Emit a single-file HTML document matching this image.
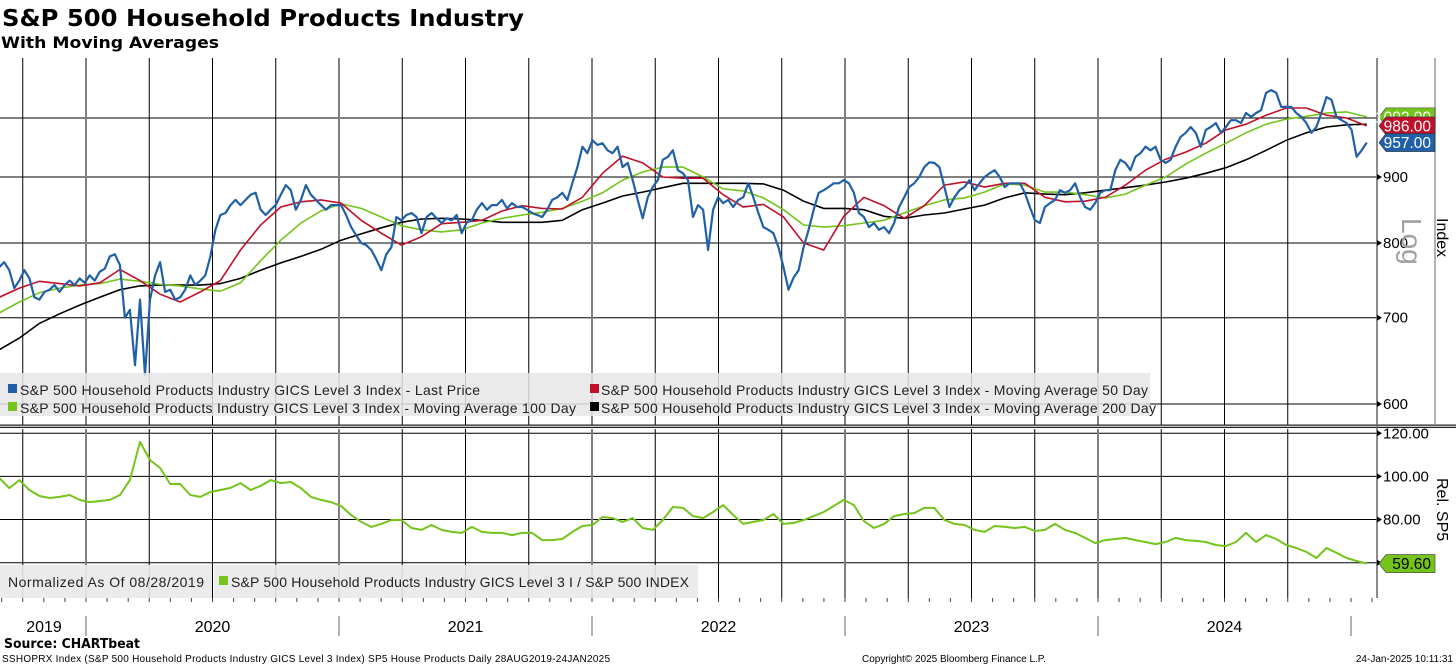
<!DOCTYPE html>
<html><head><meta charset="utf-8"><style>
html,body{margin:0;padding:0;background:#fff;}
svg{display:block;font-family:"Liberation Sans",sans-serif;}
</style></head><body>
<svg id="chart" width="1456" height="665" viewBox="0 0 1456 665" xmlns="http://www.w3.org/2000/svg">
<text x="2" y="26" font-family="DejaVu Sans, sans-serif" font-weight="bold" font-size="23" textLength="522" lengthAdjust="spacingAndGlyphs" fill="#000">S&amp;P 500 Household Products Industry</text>
<text x="1" y="48" font-family="DejaVu Sans, sans-serif" font-weight="bold" font-size="16" textLength="218" lengthAdjust="spacingAndGlyphs" fill="#000">With Moving Averages</text>
<g id="grid"></g>
<g id="series"></g>
<g id="axes"></g>
<g>
  <rect x="0" y="373" width="1150" height="43" fill="#e6e6e6" fill-opacity="0.85"/>
  <rect x="8" y="384" width="9" height="9" fill="#2060a8"/>
  <text x="20" y="395" font-size="14" textLength="460" fill="#222">S&amp;P 500 Household Products Industry GICS Level 3 Index - Last Price</text>
  <rect x="590" y="384" width="9" height="9" fill="#c0102a"/>
  <text x="601" y="395" font-size="14" textLength="547" fill="#222">S&amp;P 500 Household Products Industry GICS Level 3 Index - Moving Average 50 Day</text>
  <rect x="8" y="402" width="9" height="9" fill="#74c41c"/>
  <text x="20" y="413" font-size="14" textLength="556" fill="#222">S&amp;P 500 Household Products Industry GICS Level 3 Index - Moving Average 100 Day</text>
  <rect x="590" y="402" width="9" height="9" fill="#000"/>
  <text x="601" y="413" font-size="14" textLength="555" fill="#222">S&amp;P 500 Household Products Industry GICS Level 3 Index - Moving Average 200 Day</text>
</g>
<g>
  <rect x="0" y="565" width="212" height="33" fill="#e9e9e9" fill-opacity="0.9"/>
  <rect x="214" y="565" width="484" height="33" fill="#e9e9e9" fill-opacity="0.9"/>
  <text x="8" y="587" font-size="14" textLength="196" fill="#222">Normalized As Of 08/28/2019</text>
  <rect x="219" y="576" width="9" height="9" fill="#74c41c"/>
  <text x="231" y="587" font-size="14" textLength="458" fill="#222">S&amp;P 500 Household Products Industry GICS Level 3 I / S&amp;P 500 INDEX</text>
</g>
<text transform="translate(1402,218) rotate(90)" font-size="28" fill="#a0a0a0">Log</text>
<text transform="translate(1437,218) rotate(90)" font-size="16" fill="#000">Index</text>
<text transform="translate(1437,478) rotate(90)" font-size="16" fill="#000">Rel. SP5</text>
<text x="4" y="648" font-family="DejaVu Sans, sans-serif" font-weight="bold" font-size="13" textLength="136" lengthAdjust="spacingAndGlyphs" fill="#000">Source: CHARTbeat</text>
<text x="2" y="662" font-size="10" textLength="608" fill="#000">SSHOPRX Index (S&amp;P 500 Household Products Industry GICS Level 3 Index) SP5 House Products  Daily 28AUG2019-24JAN2025</text>
<text x="862" y="662" font-size="10" fill="#000">Copyright© 2025 Bloomberg Finance L.P.</text>
<text x="1453" y="662" font-size="10" text-anchor="end" fill="#000">24-Jan-2025 10:11:31</text>
</svg>
<script>
const price=[766,773,762,738,748,762,751,726,723,733,736,742,733,742,748,742,751,745,755,748,760,764,781,784,769,700,710,643,723,632,723,755,773,733,736,723,726,736,755,742,748,755,781,819,841,844,856,864,856,864,872,875,849,841,849,856,872,887,879,849,864,887,872,864,856,849,856,856,856,841,823,811,800,797,790,777,762,784,794,838,833,841,844,838,814,838,844,836,829,836,833,841,814,830,833,849,859,849,856,856,864,851,859,853,853,849,844,841,838,849,864,868,875,864,890,916,950,939,961,953,956,944,939,950,916,923,895,864,836,868,884,895,928,933,944,911,906,895,838,856,849,790,849,868,859,864,853,864,868,890,868,844,823,819,814,794,766,736,752,762,794,819,849,875,879,884,890,890,895,890,875,844,838,823,829,819,823,814,829,853,868,884,890,900,916,924,923,916,884,853,868,879,884,895,879,890,900,906,911,900,884,890,890,890,875,853,833,829,853,859,864,879,875,879,890,868,853,849,859,875,879,879,911,928,923,911,933,939,950,944,950,928,923,928,950,967,974,984,974,950,979,984,991,974,984,996,996,991,1009,1002,1009,1014,1046,1051,1046,1020,1020,1020,1009,1002,991,974,984,1009,1038,1033,1002,996,991,979,933,944,957];
const ma50=[726,738,747,744,741,745,763,748,730,720,733,748,790,826,853,861,864,859,833,814,797,809,828,830,833,847,855,851,850,868,906,934,923,900,898,898,872,853,857,838,800,790,839,868,855,836,855,887,892,884,890,890,868,861,862,868,887,911,929,941,956,979,989,1005,1018,1018,1005,1000,986];
const ma100=[706,720,732,738,742,744,750,747,743,741,737,734,745,775,804,829,847,858,851,838,825,819,816,819,829,836,841,845,851,862,875,895,908,916,916,900,881,878,867,849,826,823,825,829,833,844,855,864,867,876,889,887,876,876,872,867,873,887,900,921,939,956,974,989,998,1003,1009,1011,1002];
const ma200=[661,675,693,705,716,726,736,741,742,742,742,744,751,762,772,781,791,804,813,822,830,835,836,835,833,830,830,830,833,849,859,870,876,883,890,890,890,890,889,879,862,851,851,849,839,836,841,844,850,856,867,875,873,872,875,879,883,887,892,898,906,915,928,944,961,974,984,988,989];
const relative=[99.3,94.6,98.3,93.7,90.9,90.0,90.5,91.4,89.1,88.1,88.6,89.1,91.4,98.3,116.0,107.6,103.9,96.5,96.5,91.4,90.5,92.8,93.7,94.7,96.9,93.7,95.6,98.3,96.9,97.4,94.6,90.5,89.1,88.1,86.3,82.1,78.9,76.6,78.0,79.8,79.8,76.1,75.2,77.5,75.2,74.3,73.8,76.6,74.3,73.8,73.8,72.8,73.8,73.8,70.5,70.5,71.0,74.3,77.0,77.5,81.2,80.7,78.9,80.7,76.1,75.2,79.8,85.8,85.4,81.6,80.7,83.5,86.7,82.1,78.0,78.9,79.8,82.6,78.0,78.4,79.8,81.6,83.5,86.3,89.1,86.7,79.3,76.1,78.0,81.6,82.6,83.0,85.4,85.4,79.8,78.0,77.5,75.2,74.3,77.0,76.6,76.1,76.6,74.7,75.2,78.0,75.2,73.8,71.5,69.1,70.5,71.0,71.5,70.5,69.6,68.6,69.6,71.5,70.5,70.1,69.6,68.2,67.7,69.6,73.8,69.6,72.8,71.0,68.2,66.8,65.0,62.2,66.8,64.6,62.2,60.8,59.6];
const priceTicks=[600,700,800,900,1000];
const relTicks=[60,80,100,120];
const relTickLabels=["","80.00","100.00","120.00"];
const years=["2019","2020","2021","2022","2023","2024"];
const startYear=2019.657, endYear=2025.062;

const NS="http://www.w3.org/2000/svg";
const PLOT_R=1377;
function xScale(t){return 86+(t-2020)*253;}
function yPrice(v){return 177-560*Math.log(v/900);}
function yRel(v){return 562.7-(v-60)*2.157;}
function tAt(i,n){return startYear+i*(endYear-startYear)/(n-1);}
function mk(tag,attrs,parent){const e=document.createElementNS(NS,tag);for(const k in attrs)e.setAttribute(k,attrs[k]);parent.appendChild(e);return e;}

const grid=document.getElementById('grid');
const axes=document.getElementById('axes');
const series=document.getElementById('series');

priceTicks.forEach(v=>{
  const l=mk('line',{x1:0,x2:PLOT_R,y1:yPrice(v),y2:yPrice(v),stroke:'#000','stroke-width':1},grid);
  
  
});
relTicks.forEach(v=>{
  const l=mk('line',{x1:0,x2:PLOT_R,y1:yRel(v),y2:yRel(v),stroke:'#000','stroke-width':1},grid);
  
  
});
for(let y=2019;y<=2024;y++){for(let q=0;q<4;q++){
  const t=y+q/4; if(t<startYear) continue;
  const x=xScale(t); if(x>PLOT_R) continue;
  const isYear=q===0;
  [[58,425],[429,598]].forEach(r=>{
    const l=mk('line',{x1:x,x2:x,y1:r[0],y2:r[1],stroke:isYear?'#808080':'#000','stroke-width':isYear?2:1},grid);
    
    
  });
}}
const sep=mk('rect',{x:0,y:424.5,width:1456,height:3.5,fill:'#222'},axes);


const sep2=mk('line',{x1:0,x2:1456,y1:426.2,y2:426.2,stroke:'#fff','stroke-width':1},axes);


const ax=mk('line',{x1:PLOT_R,x2:PLOT_R,y1:58,y2:598,stroke:'#666','stroke-width':1.5},axes);


const ax2=mk('line',{x1:1435,x2:1435,y1:58,y2:424,stroke:'#999','stroke-width':1.5},axes);


for(let m=0;m<70;m++){
  const t=2019+8/12+m/12; if(t>endYear+0.05) break;
  const x=xScale(t);
  const tk=mk('line',{x1:x,x2:x,y1:598,y2:602,stroke:'#444','stroke-width':1},axes);
  
  
}
years.forEach((y,i)=>{
  const yr=+y;
  const a=Math.max(xScale(yr),0), b=Math.min(xScale(yr+1),1377);
  const txt=mk('text',{x:(a+b)/2+(i===0?1:0),y:632,'font-size':16,'text-anchor':'middle',fill:'#000'},axes);
  txt.textContent=y;
  
  
  if(i>0){
    const l=mk('line',{x1:xScale(yr),x2:xScale(yr),y1:616,y2:636,stroke:'#999','stroke-width':1.5},axes);
    
    
  }
});
const endSep=mk('line',{x1:xScale(2025),x2:xScale(2025),y1:616,y2:636,stroke:'#999','stroke-width':1.5},axes);



function pathFor(arr,yf){return arr.map((v,i)=>(i?'L':'M')+xScale(tAt(i,arr.length)).toFixed(1)+' '+yf(v).toFixed(1)).join(' ');}
const p200=mk('path',{d:pathFor(ma200,yPrice),fill:'none',stroke:'#000','stroke-width':1.6},series);


const p100=mk('path',{d:pathFor(ma100,yPrice),fill:'none',stroke:'#74c41c','stroke-width':1.6},series);


const p50=mk('path',{d:pathFor(ma50,yPrice),fill:'none',stroke:'#c0102a','stroke-width':1.6},series);


const pp=mk('path',{d:pathFor(price,yPrice),fill:'none',stroke:'#2060a8','stroke-width':2.2,'stroke-linejoin':'round'},series);


const pr=mk('path',{d:pathFor(relative,yRel),fill:'none',stroke:'#74c41c','stroke-width':2,'stroke-linejoin':'round'},series);



priceTicks.forEach(v=>{
  if(v===1000) return;
  const y=yPrice(v);
  const tk=mk('path',{d:`M${PLOT_R} ${y-3} L${PLOT_R+5} ${y} L${PLOT_R} ${y+3}Z`,fill:'#000'},axes);
  
  
  const t=mk('text',{x:1383,y:y+5,'font-size':15,fill:'#000'},axes);
  t.textContent=String(v);
  
  
});
relTicks.forEach((v,i)=>{
  const y=yRel(v);
  const tk=mk('path',{d:`M${PLOT_R} ${y-3} L${PLOT_R+5} ${y} L${PLOT_R} ${y+3}Z`,fill:'#000'},axes);
  
  
  if(!relTickLabels[i]) return;
  const t=mk('text',{x:1383,y:y+5,'font-size':15,fill:'#000'},axes);
  t.textContent=relTickLabels[i];
  
  
});
function tag(v,yf,color,txtColor,name){
  const y=yf(v);
  const g=mk('g',{},axes);
  
  
  mk('path',{d:`M${PLOT_R+2} ${y} L${PLOT_R+9} ${y-9} L1435 ${y-9} L1435 ${y+9} L${PLOT_R+9} ${y+9}Z`,fill:color,stroke:'#333','stroke-width':0.6},g);
  const t=mk('text',{x:1431,y:y+5.5,'font-size':15.5,'text-anchor':'end',fill:txtColor},g);
  t.textContent=v.toFixed(2);
}
tag(ma100[ma100.length-1],yPrice,'#74c41c','#fff','ma100-value-tag');
tag(ma50[ma50.length-1],yPrice,'#c0102a','#fff','ma50-value-tag');
tag(price[price.length-1],yPrice,'#2060a8','#fff','last-price-value-tag');
tag(relative[relative.length-1],yRel,'#74c41c','#000','relative-value-tag');
</script>
</body></html>
